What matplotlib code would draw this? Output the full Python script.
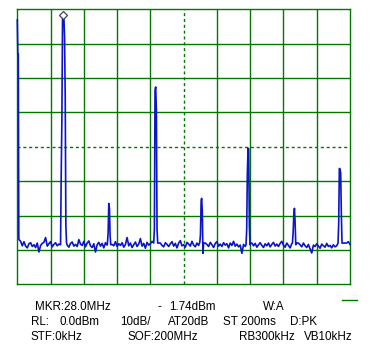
import numpy as np
import matplotlib
matplotlib.use("Agg")
import matplotlib.pyplot as plt
from matplotlib.lines import Line2D

# ---- data ----
noise_db = [
    -66.0, -67.0, -67.5, -68.8, -67.6, -68.9, -69.4, -68.2, -67.9, -69.0,
    -68.5, -69.3, -68.0, -70.6, -68.7, -68.1, -67.8, -66.4, -68.9, -68.2,
    -67.6, -69.1, -68.4, -67.9, -68.8, -68.3, -68.5, -68.0, -68.0, -68.2,
    -68.6, -69.2, -68.1, -67.7, -68.9, -68.4, -69.0, -67.0, -68.3, -68.7,
    -67.5, -69.1, -68.0, -67.4, -68.8, -69.3, -68.2, -70.6, -68.5, -67.8,
    -68.9, -68.1, -69.4, -67.9, -68.6, -68.3, -68.0, -68.4, -68.8, -67.6,
    -69.0, -68.2, -68.7, -67.9, -69.2, -68.4, -66.4, -68.8, -68.0, -69.3,
    -68.5, -67.7, -69.0, -68.3, -66.7, -68.9, -68.1, -69.5, -67.8, -68.6,
    -68.2, -67.5, -68.0, -68.0, -68.0, -68.0, -68.0, -68.7, -69.1, -67.9,
    -68.4, -69.0, -68.2, -67.6, -68.9, -68.1, -69.4, -68.0, -67.3, -68.8,
    -68.5, -69.2, -67.8, -68.3, -68.9, -67.5, -68.6, -69.1, -68.0, -68.7,
    -68.0, -68.0, -68.0, -68.0, -68.4, -69.0, -67.8, -68.5, -69.3, -68.1,
    -67.6, -68.9, -68.3, -69.0, -67.9, -68.6, -68.2, -69.4, -68.0, -68.7,
    -67.5, -68.9, -68.3, -69.1, -68.6, -71.0, -68.4, -69.0, -68.0, -68.0,
    -68.0, -68.0, -68.8, -68.1, -69.2, -68.5, -67.9, -68.7, -69.3, -68.2,
    -68.8, -68.0, -69.1, -68.4, -67.8, -68.9, -68.3, -69.0, -68.1, -67.5,
    -68.6, -69.2, -68.0, -68.7, -69.4, -68.2, -68.0, -68.0, -68.0, -68.0,
    -68.5, -69.1, -68.0, -68.8, -69.3, -68.4, -69.7, -70.9, -68.6, -69.0,
    -68.2, -68.9, -69.5, -68.3, -68.8, -69.2, -68.1, -69.0, -68.7, -69.4,
    -68.5, -69.1, -68.8, -68.3, -68.0, -68.0, -68.0, -68.0, -68.0, -67.6,
    -68.4,
]
noise_mhz = list(range(0, 201))

edge_mhz = [0.0, 0.3, 0.6, 0.9]
edge_db = [-3.1, -13.0, -13.0, -66.0]

p1_mhz = [26.0, 26.4, 26.8, 27.2, 27.6, 28.0, 28.4, 28.8, 29.2, 29.6]
p1_db = [-68.5, -48.0, -32.0, -2.5, -2.2, -2.4, -8.0, -25.0, -63.0, -68.0]
p2_mhz = [54.2, 54.6, 55.0, 55.4, 55.8, 56.2]
p2_db = [-68.0, -65.0, -56.5, -58.0, -66.0, -68.5]
p3_mhz = [82.0, 82.4, 82.8, 83.2, 83.6, 84.0, 84.4]
p3_db = [-68.0, -64.0, -23.5, -22.6, -29.3, -64.0, -68.0]
p4_mhz = [109.7, 110.1, 110.5, 110.8, 111.2, 111.6, 112.0]
p4_db = [-67.8, -65.7, -56.0, -55.0, -58.7, -71.0, -68.0]
p5_mhz = [137.5, 137.9, 138.3, 138.7, 139.1, 139.5, 139.9]
p5_db = [-68.5, -64.0, -47.6, -40.4, -40.6, -63.0, -68.5]
p6_mhz = [165.4, 165.8, 166.2, 166.6, 167.0, 167.4]
p6_db = [-68.0, -65.0, -60.0, -57.9, -62.0, -68.5]
p7_mhz = [192.8, 193.2, 193.6, 194.0, 194.4, 194.8, 195.2]
p7_db = [-68.0, -62.5, -46.3, -46.5, -47.7, -59.6, -68.0]

marker_mhz = 27.6
marker_db = -1.74

x_ticks = list(range(0, 201, 20))
y_ticks = list(range(-80, 1, 10))

# ---- assemble trace ----
segments = [(edge_mhz, edge_db), (p1_mhz, p1_db), (p2_mhz, p2_db), (p3_mhz, p3_db),
            (p4_mhz, p4_db), (p5_mhz, p5_db), (p6_mhz, p6_db), (p7_mhz, p7_db)]
nf = np.array(noise_mhz, float)
nd = np.array(noise_db, float)
keep = np.ones(len(nf), bool)
for f, _ in segments:
    keep &= ~((nf >= min(f)) & (nf <= max(f)))
allf = np.concatenate([nf[keep]] + [np.array(f, float) for f, _ in segments])
alld = np.concatenate([nd[keep]] + [np.array(d, float) for _, d in segments])
order = np.argsort(allf, kind="stable")
allf, alld = allf[order], alld[order]

W, H = 370, 350
fig = plt.figure(figsize=(W / 100, H / 100), dpi=100)
fig.patch.set_facecolor("white")
L, R, T, B = 17.3, 350.0, 9.3, 284.3
ax = fig.add_axes([L / W, 1 - B / H, (R - L) / W, (B - T) / H])
ax.set_xlim(0, 200)
ax.set_ylim(-80, 0)
ax.set_xticks([])
ax.set_yticks([])

green = "#007800"
for s in ax.spines.values():
    s.set_color(green)
    s.set_linewidth(1.0)
for x in x_ticks[1:-1]:
    ls = (0, (2.2, 2.0)) if x == 100 else "-"
    ax.axvline(x, color=green, lw=1.0, ls=ls, zorder=1)
for y in y_ticks[1:-1]:
    ls = (0, (2.2, 2.0)) if y == -40 else "-"
    ax.axhline(y, color=green, lw=1.0, ls=ls, zorder=1)

ax.plot(allf, alld, color="#0a14c8", lw=1.2, zorder=3, clip_on=False)
ax.plot([marker_mhz], [marker_db], marker="D", ms=4.5, mfc="white",
        mec="#404068", mew=0.9, zorder=4, clip_on=False)

fam = ["Liberation Sans", "DejaVu Sans"]
fs = 8.4
texts = [
    (35, 307.5, "MKR:28.0MHz"), (157, 307.5, "-"), (169, 307.5, "1.74dBm"), (263, 307.5, "W:A"),
    (30.5, 322, "RL:"), (60, 322, "0.0dBm"), (120.5, 322, "10dB/"), (168, 322, "AT20dB"),
    (223, 322, "ST 200ms"), (290, 322, "D:PK"),
    (30.5, 337, "STF:0kHz"), (127, 337, "SOF:200MHz"), (239, 337, "RB300kHz"), (304, 337, "VB10kHz"),
]
for x, y, s in texts:
    fig.text(x / W, 1 - y / H, s, ha="left", va="center", fontsize=fs,
             family=fam, color="black")

fig.add_artist(Line2D([342 / W, 357 / W], [1 - 300 / H, 1 - 300 / H],
                      color=green, lw=1.0, transform=fig.transFigure))

fig.savefig("out.png", dpi=100, facecolor="white")
